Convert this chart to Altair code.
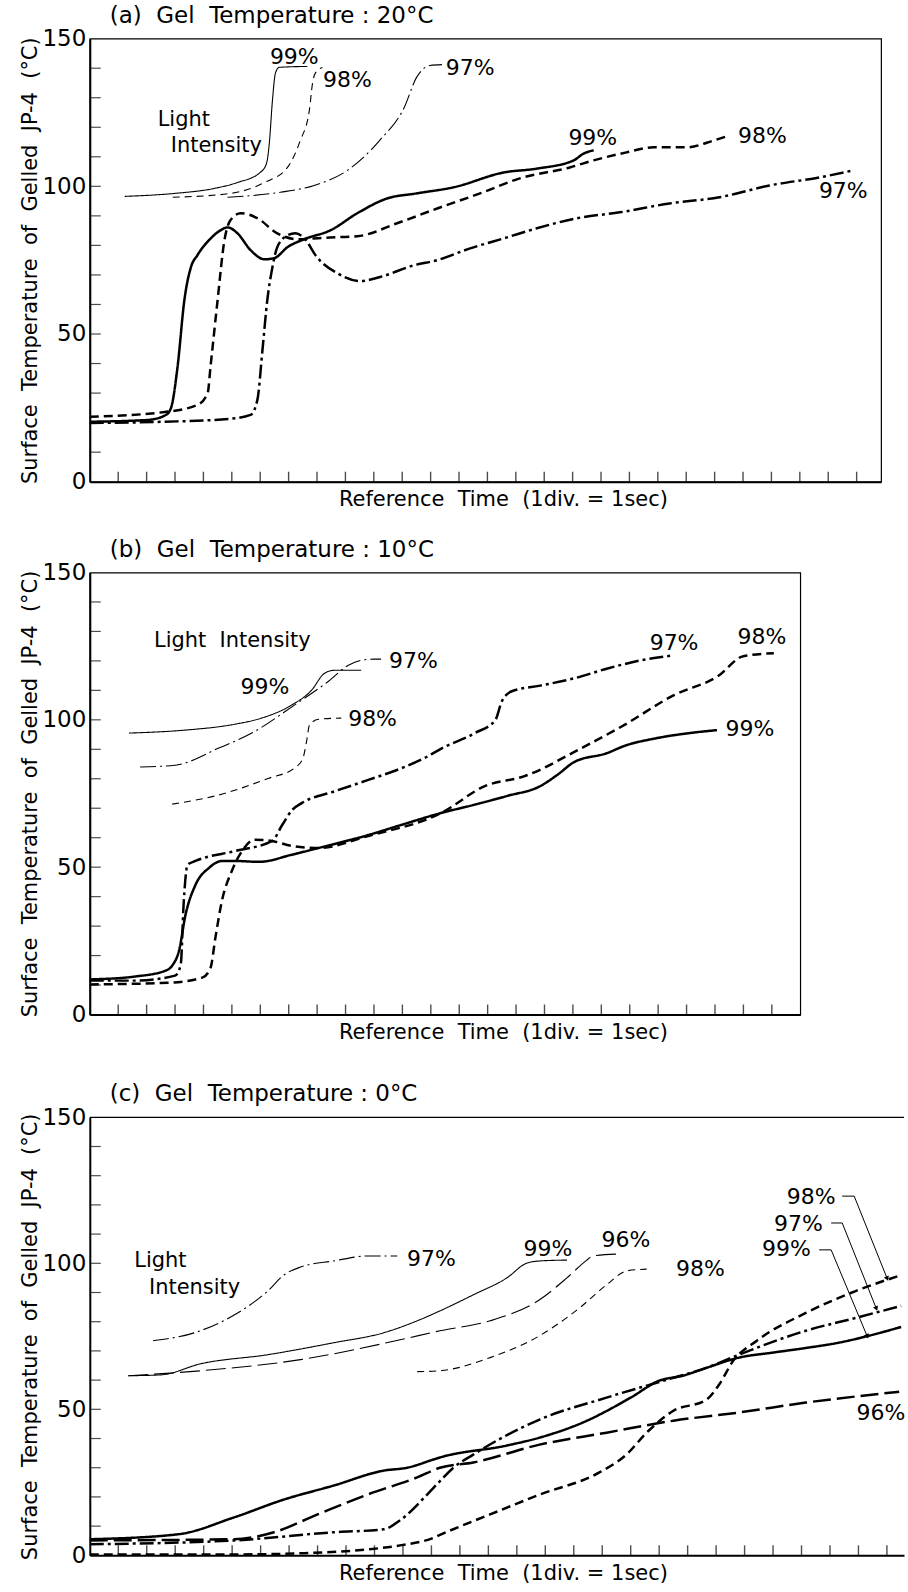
import altair as alt
import pandas as pd

FONT = "DejaVu Sans"
NB = "\u00a0"
Y_TITLE = f"Surface{NB} Temperature{NB} of{NB} Gelled{NB} JP-4{NB} (°C)"
X_TITLE = f"Reference{NB} Time{NB}  (1div. = 1sec)"

# ---------------- Panel (a) Gel Temperature 20°C ----------------
A_L99_X = [1.23, 2.98, 4.39, 5.2, 6.0, 6.22, 6.32, 6.43, 6.54, 6.67, 7.66]
A_L99_Y = [96.6, 97.6, 99.3, 101.3, 104.7, 107.7, 114.5, 129, 138.5, 140.3, 140.6]
A_L98_X = [2.92, 4.95, 6.15, 6.96, 7.41, 7.73, 7.84, 7.95, 8.19]
A_L98_Y = [96.3, 97.6, 101.3, 106.4, 115.5, 125.7, 134.8, 138.5, 140.2]
A_L97_X = [4.85, 6.71, 7.9, 9.07, 10.2, 11.07, 11.5, 11.98, 12.4]
A_L97_Y = [96.3, 98.0, 100.3, 105.4, 115.5, 126.7, 136.8, 140.9, 141.2]

A_T99_X = [0.0, 2.04, 2.68, 2.86, 3.09, 3.33, 3.56, 3.79, 4.26, 4.6, 4.85, 5.2, 5.66, 6.15,
           6.5, 6.96, 7.55, 8.47, 9.42, 10.47, 11.5, 12.82, 14.58, 15.74, 17.04, 17.39, 17.74]
A_T99_Y = [20.3, 20.9, 22.6, 25, 38.9, 61.5, 72.6, 76.7, 82.4, 85.1, 86.1, 84.1, 78.4, 75.3,
           75.7, 79.4, 82.1, 85.1, 90.9, 95.9, 97.6, 99.7, 104.7, 106, 108.8, 111.1, 112.2]
A_T98_X = [0.0, 2.64, 3.79, 4.15, 4.25, 4.5, 4.74, 4.95, 5.31, 5.9, 6.6, 7.31, 8.47, 9.42,
           10.82, 12.23, 13.74, 15.14, 16.9, 17.74, 18.9, 19.85, 21.0, 21.96, 22.5]
A_T98_Y = [22, 23.6, 26, 30, 38.9, 61.5, 81.7, 88.5, 90.9, 89.2, 84.1, 82.1, 82.7, 83.1,
           87.5, 92.5, 97.6, 102.7, 106.4, 108.8, 111.5, 113.2, 113.2, 115.5, 117.2]
A_T97_X = [0.0, 2.64, 4.95, 5.66, 5.9, 6.08, 6.25, 6.43, 6.6, 6.96, 7.24, 7.55, 8.0, 8.71,
           9.52, 10.22, 11.42, 12.23, 13.39, 14.58, 15.74, 17.15, 18.66, 20.41, 22.17, 23.93,
           25.68, 26.88]
A_T97_Y = [19.9, 20.3, 21.3, 22.6, 27.7, 44.6, 61.5, 72.6, 79.4, 83.4, 84.1, 82.4, 76, 70.6,
           67.9, 69.3, 73.3, 75, 79, 82.4, 85.8, 89.2, 91.2, 94.2, 96.3, 100.3, 103, 105.4]

A_LBL_TEXT = ["99%", "98%", "97%", "99%", "98%", "97%"]
A_LBL_X = [7.2, 9.07, 13.39, 17.71, 23.68, 26.53]
A_LBL_Y = [143.9, 136.1, 140.2, 116.2, 117.2, 98.3]
A_NOTE_TEXT = ["Light", "Intensity"]
A_NOTE_X = [2.39, 2.85]
A_NOTE_Y = [122.6, 113.8]

# ---------------- Panel (b) Gel Temperature 10°C ----------------
B_L99_X = [1.38, 3.34, 5.1, 6.05, 7.1, 7.8, 8.26, 8.6, 9.55]
B_L99_Y = [95.5, 96.5, 98.5, 100.6, 105, 110, 115.8, 116.8, 116.8]
B_L97_X = [1.77, 3.0, 4.54, 5.7, 7.2, 8.4, 9.1, 9.55, 10.0, 10.25]
B_L97_Y = [84, 84.6, 90.4, 95.5, 105, 113.1, 118.5, 120.2, 120.6, 120.6]
B_L98_X = [2.9, 4.54, 6.3, 7.2, 7.5, 7.63, 7.73, 8.05, 8.85]
B_L98_Y = [71.4, 74.5, 80.2, 83.6, 87, 92.8, 98.2, 100.2, 100.6]

B_T99_X = [0.0, 1.6, 2.67, 2.9, 3.14, 3.37, 3.72, 4.2, 4.65, 5.12, 5.96, 7.1, 8.05, 9.8,
           10.95, 12.37, 13.5, 14.7, 15.85, 16.45, 17.05, 18.2, 18.8, 19.96, 21.1, 22.07]
B_T99_Y = [11.9, 12.9, 14.9, 16.6, 21.7, 33.9, 44, 49.8, 52.1, 52.1, 51.8, 54.2, 56.5, 60.9,
           64.3, 68.4, 71.1, 74.2, 77.5, 81.3, 85.7, 88.7, 91.1, 93.8, 95.5, 96.5]
B_T97_X = [0.0, 1.6, 3.0, 3.2, 3.3, 3.44, 3.72, 5.12, 6.42, 6.77, 7.12, 7.47, 8.63, 9.8,
           10.97, 11.77, 12.4, 13.55, 14.27, 14.5, 14.85, 15.9, 17.05, 18.25, 19.4, 20.56]
B_T97_Y = [11.5, 11.5, 13.2, 16.9, 37.2, 50.8, 52.1, 55.5, 58.9, 64.3, 69.4, 71.8, 75.8, 79.6,
           83.6, 87, 90.4, 95.5, 99.9, 106.3, 109.7, 111.7, 114.1, 117.5, 120.2, 121.9]
B_T98_X = [0.0, 2.8, 3.96, 4.25, 4.42, 4.65, 5.0, 5.36, 5.8, 6.4, 7.12, 8.05, 9.8, 12.37,
           13.9, 15.3, 17.3, 18.8, 20.56, 22.1, 23.0, 24.07]
B_T98_Y = [10.2, 10.8, 12.5, 15.9, 26.1, 38.6, 48.8, 55.5, 59.3, 58.9, 57.2, 56.5, 60.6, 68.4,
           77.5, 80.9, 90.4, 98.2, 108.4, 114.8, 121.6, 122.6]

B_LBL_TEXT = ["99%", "97%", "98%", "97%", "98%", "99%"]
B_LBL_X = [6.16, 11.39, 9.95, 20.56, 23.65, 23.23]
B_LBL_Y = [111.1, 119.9, 100.2, 126.0, 128.0, 96.8]
B_NOTE_TEXT = [f"Light{NB} Intensity"]
B_NOTE_X = [2.26]
B_NOTE_Y = [126.6]

# ---------------- Panel (c) Gel Temperature 0°C ----------------
C_L97_X = [2.22, 3.67, 5.07, 6.25, 6.82, 7.4, 8.57, 9.75, 10.8]
C_L97_Y = [73.5, 76.2, 82.3, 90.5, 96, 98.7, 100.8, 102.5, 102.5]
C_L99_X = [1.35, 2.5, 3.9, 6.25, 8.57, 10.32, 11.5, 12.3, 13.47, 14.65, 15.36, 15.8, 16.76]
C_L99_Y = [61.5, 61.8, 65.6, 68.7, 72.8, 76.2, 80.3, 83.7, 89.2, 95, 100.1, 100.8, 101.1]
C_L96_X = [1.35, 3.9, 7.4, 10.9, 12.3, 14.06, 15.8, 16.76, 17.46, 17.67, 18.6]
C_L96_Y = [61.5, 63.2, 67, 73.8, 76.9, 80.3, 87.5, 95, 101.1, 102.5, 103.2]
C_L98_X = [11.5, 12.3, 14.06, 15.8, 17.2, 18.15, 18.86, 19.56]
C_L98_Y = [62.9, 63.2, 67.7, 75.2, 84.7, 92.6, 97.4, 98]

C_T99_X = [0.0, 3.1, 5.07, 6.82, 8.57, 10.32, 11.15, 12.07, 12.3, 14.65, 15.8, 17.3, 19,
           20, 20.83, 21.66, 22.8, 23.98, 25.15, 26.3, 27.37, 28.5]
C_T99_Y = [5.5, 7.2, 13, 19.1, 23.9, 29, 30, 32.8, 33.5, 37.6, 40.3, 45.4, 54, 59.8, 61.5,
           64.2, 67.7, 69.4, 71, 72.8, 75.2, 78.2]
C_T96_X = [0.0, 5.07, 6.47, 8.0, 9.75, 11.5, 12.3, 13.47, 15.8, 18.15, 20.5, 22.8, 25.15, 28.43]
C_T96_Y = [5.1, 5.5, 7.9, 14, 20.8, 26.7, 30, 31.8, 37.9, 42, 46.1, 48.9, 52.3, 56]
C_T97_X = [0.0, 5.07, 8.57, 10.32, 10.9, 11.85, 12.3, 12.77, 13.47, 15.8, 18.15, 20.5, 21.66,
           22.8, 25.15, 26.9, 28.5]
C_T97_Y = [3.8, 5.1, 7.9, 8.9, 12, 20.8, 25.4, 30, 34.5, 46.5, 54, 60.8, 64.2, 68.7, 76.9,
           81.3, 85.4]
C_T98_X = [0.0, 5.07, 7.4, 9.75, 10.9, 12.07, 12.3, 14.06, 15.8, 17.9, 18.85, 19.56, 20.5,
           21.66, 22.1, 22.6, 23.43, 25.15, 26.9, 28.52]
C_T98_Y = [0.3, 0.3, 0.7, 2, 3.4, 6.0, 7.0, 14, 20.8, 28.4, 34.5, 42, 49.5, 53.3, 58.4, 66.6,
           73.5, 83, 90.5, 96]

C_LBL_TEXT = ["97%", "99%", "96%", "98%", "98%", "97%", "99%", "96%"]
C_LBL_X = [12.0, 16.09, 18.83, 21.45, 25.34, 24.89, 24.47, 27.79]
C_LBL_Y = [101.5, 104.9, 108.0, 98.1, 122.7, 113.4, 104.9, 48.9]
C_NOTE_TEXT = ["Light", "Intensity"]
C_NOTE_X = [1.56, 2.08]
C_NOTE_Y = [100.8, 91.6]

# leader lines (label -> curve) in panel (c)
C_LEAD_98_X = [26.43, 26.85, 28.0]
C_LEAD_98_Y = [123.0, 123.0, 95.0]
C_LEAD_97_X = [26.04, 26.43, 27.62]
C_LEAD_97_Y = [113.8, 113.8, 84.7]
C_LEAD_99_X = [25.62, 26.04, 27.3]
C_LEAD_99_Y = [104.6, 104.6, 75.2]
C_ARROW_ANGLE = [158, 158, 157]

Y_MINOR = [10, 20, 30, 40, 50, 60, 70, 80, 90, 100, 110, 120, 130, 140]

STYLE_NAMES = ["thick_solid", "thick_dash", "thick_dashdot", "thick_longdash",
               "thin_solid", "thin_dash", "thin_dashdot", "thin_longdash"]
STYLE_DASHES = [[1, 0], [9, 5], [14, 4, 3, 4], [18, 6],
                [1, 0], [7, 5], [16, 4, 2, 4], [20, 6]]


def curves_frame(curves):
    rows = []
    for name, style, xs, ys in curves:
        for i, (x, y) in enumerate(zip(xs, ys)):
            rows.append({"curve": name, "style": style, "w": style.split("_")[0],
                         "i": i, "x": x, "y": y})
    return pd.DataFrame(rows)


def panel(curves, lbl, note, ticks, xmax, width, height, title, frame=True, leaders=None):
    X = alt.X("x:Q", scale=alt.Scale(domain=[0, xmax], nice=False, zero=False),
              axis=alt.Axis(labels=False, ticks=False, grid=False, domainWidth=2,
                            domainColor="black", title=X_TITLE, titleFont=FONT,
                            titleFontSize=21, titleFontWeight="normal", titleX=414,
                            titleY=18, titleAlign="center", titleBaseline="middle"))
    Y = alt.Y("y:Q", scale=alt.Scale(domain=[0, 150], nice=False),
              axis=alt.Axis(values=[0, 50, 100, 150], ticks=False, grid=False,
                            labelFont=FONT, labelFontSize=23, labelPadding=4,
                            domainWidth=2, domainColor="black", title=Y_TITLE,
                            titleFont=FONT, titleFontSize=21, titleFontWeight="normal",
                            titlePadding=2))
    df = curves_frame(curves)
    dash = alt.StrokeDash("style:N", scale=alt.Scale(domain=STYLE_NAMES, range=STYLE_DASHES),
                          legend=None)
    base = alt.Chart(df)
    thick = base.transform_filter(alt.datum.w == "thick").mark_line(
        color="black", strokeWidth=2.5, interpolate="monotone").encode(
        x=X, y=Y, detail="curve:N", order="i:Q", strokeDash=dash)
    thin = base.transform_filter(alt.datum.w == "thin").mark_line(
        color="black", strokeWidth=1.1, interpolate="monotone").encode(
        x=X, y=Y, detail="curve:N", order="i:Q", strokeDash=dash)

    xt = alt.Chart(pd.DataFrame({"x": ticks, "y": [0] * len(ticks)})).mark_tick(
        orient="vertical", size=10, thickness=1.4, yOffset=-5, color="black").encode(x=X, y=Y)
    yt = alt.Chart(pd.DataFrame({"x": [0] * len(Y_MINOR), "y": Y_MINOR})).mark_tick(
        orient="horizontal", size=11, thickness=1.2, xOffset=5.5, color="black").encode(x=X, y=Y)

    texts = alt.Chart(pd.DataFrame({"x": lbl[0], "y": lbl[1], "t": lbl[2]})).mark_text(
        font=FONT, fontSize=22, color="black", align="center", baseline="middle").encode(
        x=X, y=Y, text="t:N")
    notes = alt.Chart(pd.DataFrame({"x": note[0], "y": note[1], "t": note[2]})).mark_text(
        font=FONT, fontSize=21, color="black", align="left", baseline="middle").encode(
        x=X, y=Y, text="t:N")

    layers = [thick, thin, xt, yt, texts, notes]
    if leaders is not None:
        lrows = []
        arows = []
        for k, (lx, ly) in enumerate(leaders[0]):
            for i, (x, y) in enumerate(zip(lx, ly)):
                lrows.append({"lead": k, "i": i, "x": x, "y": y})
            arows.append({"x": lx[-1], "y": ly[-1], "a": leaders[1][k]})
        lead = alt.Chart(pd.DataFrame(lrows)).mark_line(color="black", strokeWidth=1).encode(
            x=X, y=Y, detail="lead:N", order="i:Q")
        arrows = alt.Chart(pd.DataFrame(arows)).mark_point(
            shape="triangle", filled=True, size=28, color="black", opacity=1).encode(
            x=X, y=Y, angle=alt.Angle("a:Q", scale=None))
        top = alt.Chart(pd.DataFrame({"y": [150]})).mark_rule(
            color="black", strokeWidth=1.2).encode(y=Y)
        layers += [lead, arrows, top]

    ch = alt.layer(*layers).properties(
        width=width, height=height,
        title=alt.TitleParams(text=title, anchor="start", frame="group", dx=20, offset=0,
                              fontSize=23, font=FONT, fontWeight="normal", color="black"))
    if not frame:
        ch = ch.properties(view=alt.ViewBackground(stroke="transparent"))
    return ch


pa = panel(
    [("l99", "thin_solid", A_L99_X, A_L99_Y), ("l98", "thin_dash", A_L98_X, A_L98_Y),
     ("l97", "thin_dashdot", A_L97_X, A_L97_Y), ("t99", "thick_solid", A_T99_X, A_T99_Y),
     ("t98", "thick_dash", A_T98_X, A_T98_Y), ("t97", "thick_dashdot", A_T97_X, A_T97_Y)],
    (A_LBL_X, A_LBL_Y, A_LBL_TEXT), (A_NOTE_X, A_NOTE_Y, A_NOTE_TEXT),
    list(range(1, 28)), 27.86, 793, 444, f"(a){NB} Gel{NB} Temperature : 20°C")

pb = panel(
    [("l99", "thin_solid", B_L99_X, B_L99_Y), ("l97", "thin_dashdot", B_L97_X, B_L97_Y),
     ("l98", "thin_dash", B_L98_X, B_L98_Y), ("t99", "thick_solid", B_T99_X, B_T99_Y),
     ("t97", "thick_dashdot", B_T97_X, B_T97_Y), ("t98", "thick_dash", B_T98_X, B_T98_Y)],
    (B_LBL_X, B_LBL_Y, B_LBL_TEXT), (B_NOTE_X, B_NOTE_Y, B_NOTE_TEXT),
    list(range(1, 25)), 25.0, 712, 443, f"(b){NB} Gel{NB} Temperature : 10°C")

pc = panel(
    [("l97", "thin_dashdot", C_L97_X, C_L97_Y), ("l99", "thin_solid", C_L99_X, C_L99_Y),
     ("l96", "thin_longdash", C_L96_X, C_L96_Y), ("l98", "thin_dash", C_L98_X, C_L98_Y),
     ("t99", "thick_solid", C_T99_X, C_T99_Y), ("t96", "thick_longdash", C_T96_X, C_T96_Y),
     ("t97", "thick_dashdot", C_T97_X, C_T97_Y), ("t98", "thick_dash", C_T98_X, C_T98_Y)],
    (C_LBL_X, C_LBL_Y, C_LBL_TEXT), (C_NOTE_X, C_NOTE_Y, C_NOTE_TEXT),
    list(range(1, 29)), 28.6, 816, 439, f"(c){NB} Gel{NB} Temperature : 0°C", frame=False,
    leaders=([(C_LEAD_98_X, C_LEAD_98_Y), (C_LEAD_97_X, C_LEAD_97_Y),
              (C_LEAD_99_X, C_LEAD_99_Y)], C_ARROW_ANGLE))

top2 = alt.vconcat(pa, pb, spacing=27).resolve_scale(x="independent", y="independent")
chart = alt.vconcat(top2, pc, spacing=39).resolve_scale(
    x="independent", y="independent"
).properties(
    padding={"left": 18, "top": 2, "right": 0, "bottom": 0}
).configure(background="white").configure_view(stroke="black", strokeWidth=1.2)

chart.save("out.html", embed_options={"renderer": "svg", "actions": False})
